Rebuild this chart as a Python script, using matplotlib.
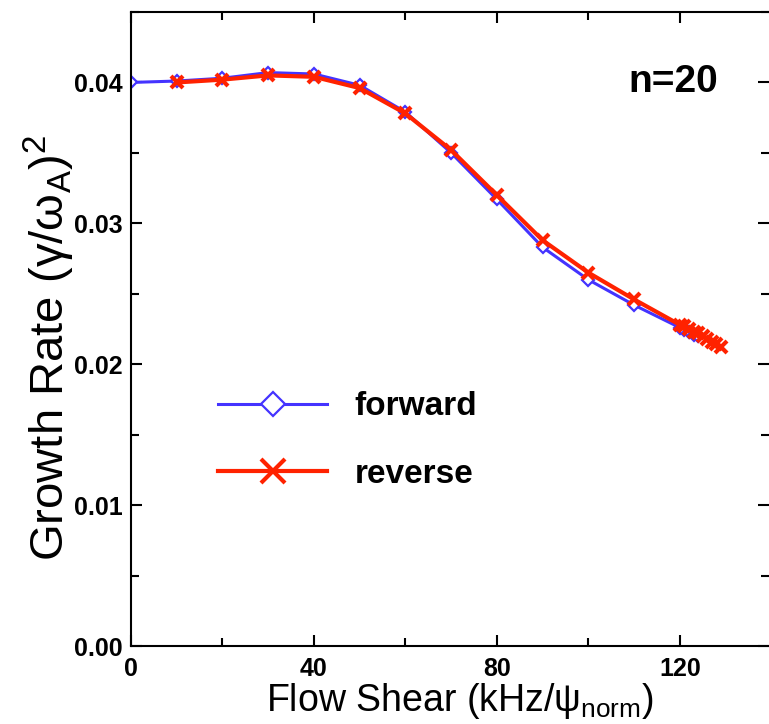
import numpy as np
import matplotlib
matplotlib.use('Agg')
import matplotlib.pyplot as plt
from matplotlib.ticker import MultipleLocator

plt.rcParams['font.family'] = ['Liberation Sans', 'DejaVu Sans']
plt.rcParams['mathtext.fontset'] = 'custom'
plt.rcParams['mathtext.rm'] = 'Liberation Sans'
plt.rcParams['mathtext.default'] = 'rm'

# forward scan (blue diamonds)
fwd_shear = [0, 10, 20, 30, 40, 50, 60, 70, 80, 90, 100, 110, 120, 121, 122, 123, 124]
fwd_rate = [0.0400, 0.0401, 0.0403, 0.0407, 0.0406, 0.0398, 0.0379, 0.0350, 0.0317,
            0.0283, 0.0260, 0.0242, 0.0226, 0.0224, 0.0223, 0.0221, 0.0220]

# reverse scan (red crosses)
rev_shear = [10, 20, 30, 40, 50, 60, 70, 80, 90, 100, 110, 120,
             121, 122, 123, 124, 125, 126, 127, 128, 129]
rev_rate = [0.0400, 0.0402, 0.0405, 0.0404, 0.0396, 0.0378, 0.0352, 0.0320, 0.0288,
            0.0265, 0.0246, 0.0228, 0.0227, 0.0225, 0.0223, 0.0222, 0.0220, 0.0218,
            0.0216, 0.0214, 0.0212]

fig = plt.figure(figsize=(7.69, 7.24), dpi=100)
ax = fig.add_axes([131 / 769, 1 - 646 / 724, 638 / 769, 634 / 724])

ax.plot(fwd_shear, fwd_rate, color='#4433ff', lw=2.2, marker='D', ms=6.5,
        mfc='white', mec='#4433ff', mew=1.6, label='forward')
ax.plot(rev_shear, rev_rate, color='#ff2200', lw=3.0, marker='x', ms=9,
        mec='#ff2200', mew=3, label='reverse')

ax.set_xlim(0, 139.5)
ax.set_ylim(0, 0.045)
ax.xaxis.set_major_locator(MultipleLocator(40))
ax.xaxis.set_minor_locator(MultipleLocator(20))
ax.yaxis.set_minor_locator(MultipleLocator(0.005))
ax.set_yticks([0, 0.01, 0.02, 0.03, 0.04])
ax.set_yticklabels(['0.00', '0.01', '0.02', '0.03', '0.04'])

ax.tick_params(which='both', direction='in', top=True, right=True, width=1.5)
ax.tick_params(which='major', length=8)
ax.tick_params(which='minor', length=6)
ax.tick_params(axis='x', pad=8)
ax.tick_params(axis='y', pad=6)
for lab in ax.get_xticklabels() + ax.get_yticklabels():
    lab.set_fontweight('bold')
    lab.set_fontsize(18)
for side in ['left', 'bottom', 'top']:
    ax.spines[side].set_linewidth(1.5)
ax.spines['right'].set_visible(False)

ax.set_xlabel(r'Flow Shear (kHz/ψ$_{norm}$)', fontsize=27)
ax.xaxis.set_label_coords(0.516, -0.055)
ax.set_ylabel(r'Growth Rate (γ/ω$_A$)$^2$', fontsize=34)
ax.yaxis.set_label_coords(-0.085, 0.47)

ax.text((718 - 131) / 638, (646 - 92) / 634, 'n=20', transform=ax.transAxes,
        ha='right', va='baseline', fontweight='bold', fontsize=28)

leg = ax.legend(loc='center left', bbox_to_anchor=(0.111, 0.324), frameon=False,
                borderpad=0, handlelength=3.25, handletextpad=0.83, labelspacing=1.1,
                markerscale=1.9, prop={'weight': 'bold', 'size': 24})

fig.savefig('out.png', dpi=100)
